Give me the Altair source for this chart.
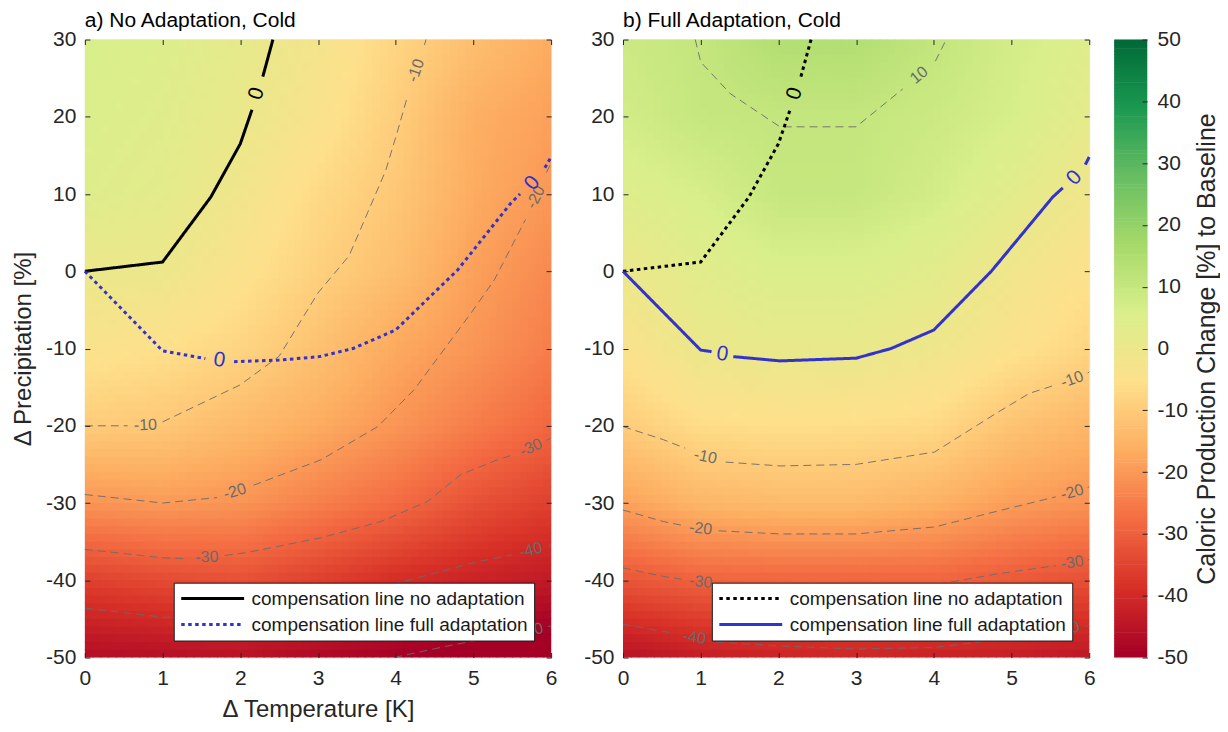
import altair as alt
import pandas as pd

# ---------------- data ----------------
T_NODES = [0, 1, 2, 3, 4, 5, 6]
P_NODES = [30, 20, 10, 0, -10, -20, -30, -40, -50]

# caloric production change [%] at the grid nodes (rows follow P_NODES, columns T_NODES)
GRID_NO_ADAPT = [
    [6.0, 4.5, 1.8, -2.5, -8.0, -13.0, -17.0],
    [5.0, 3.5, 0.6, -4.0, -9.6, -16.3, -19.0],
    [4.0, 2.5, -1.7, -7.0, -11.0, -17.0, -20.5],
    [0.0, -0.4, -4.5, -9.0, -13.0, -19.0, -23.0],
    [-4.0, -5.5, -8.0, -12.4, -17.5, -20.8, -25.0],
    [-10.0, -11.0, -14.0, -17.0, -20.8, -25.0, -29.0],
    [-21.0, -20.0, -21.0, -24.5, -28.0, -32.8, -36.0],
    [-36.0, -34.0, -33.0, -36.0, -39.5, -42.0, -44.0],
    [-47.0, -46.5, -46.0, -48.0, -50.0, -52.0, -54.0],
]
GRID_FULL_ADAPT = [
    [8.5, 10.1, 14.0, 14.0, 10.6, 6.9, 4.0],
    [7.0, 9.8, 10.1, 10.1, 8.5, 6.0, 2.0],
    [4.0, 6.0, 9.7, 9.7, 7.0, 2.8, -1.5],
    [0.0, 3.0, 5.0, 5.0, 3.0, -1.5, -5.0],
    [-4.5, 0.15, 1.1, 0.85, -1.0, -4.6, -8.0],
    [-10.0, -6.4, -5.9, -6.2, -7.0, -12.0, -14.7],
    [-18.8, -14.8, -13.8, -13.8, -15.8, -19.3, -21.4],
    [-32.1, -29.7, -29.2, -29.2, -29.3, -31.3, -33.2],
    [-46.0, -43.2, -41.9, -41.3, -42.5, -43.0, -44.7],
]

X_TICKS = [0, 1, 2, 3, 4, 5, 6]
Y_TICKS = [30, 20, 10, 0, -10, -20, -30, -40, -50]
CBAR_TICKS = [50, 40, 30, 20, 10, 0, -10, -20, -30, -40, -50]
CBAR_RANGE = [-50, 50]

SERIES = ["compensation line no adaptation", "compensation line full adaptation"]

# compensation lines (segments of [T, P]; gaps hold the "0" labels)
COMP_NO_ADAPT = [
    [[0, 0], [1, 1.2], [1.62, 9.6], [2, 16.5], [2.15, 20.9]],
    [[2.29, 25.2], [2.42, 30]],
]
COMP_NO_ADAPT_LABELS = [["0", 2.21, 23.0, 287]]

COMP_FULL_A = [
    [[0, 0], [1, -10.3], [1.55, -11.3]],
    [[1.92, -11.7], [2.5, -11.5], [3.02, -11.05], [3.45, -10.0], [4.0, -7.6], [4.8, 0.2], [5.48, 8.8], [5.6, 10.0]],
    [[5.92, 13.4], [6, 14.8]],
]
COMP_FULL_A_LABELS = [["0", 1.73, -11.55, 8], ["0", 5.76, 11.4, 310]]

COMP_FULL_B = [
    [[0, 0], [1, -10.2], [1.14, -10.4]],
    [[1.42, -11.05], [2.02, -11.6], [3, -11.25], [3.45, -10.0], [4.0, -7.6], [4.74, 0], [5.53, 9.6], [5.66, 10.8]],
    [[5.95, 13.8], [6, 14.8]],
]
COMP_FULL_B_LABELS = [["0", 1.28, -10.75, 8], ["0", 5.81, 12.1, 312]]

# dashed iso-lines of panel a
CONTOURS_A = [
    [-10, [[[0, -20], [0.55, -20]],
           [[1.0, -19.5], [2.0, -14.7], [2.5, -11.0], [3.0, -2.8], [3.4, 2.0], [3.87, 13.0], [4.02, 18.0], [4.15, 22.6]],
           [[4.37, 29.3], [4.39, 30]]]],
    [-20, [[[0, -28.9], [1, -30], [1.7, -29.3]],
           [[2.17, -27.7], [3.04, -24.4], [3.77, -20.1], [4.24, -15.3], [4.97, -5.4], [5.27, -1.1], [5.67, 6.7]],
           [[5.94, 12.8], [6, 14.0]]]],
    [-30, [[[0, -36], [1.02, -37.1], [1.33, -37.2]],
           [[1.8, -36.8], [2.09, -36.4], [3.04, -34.5], [3.81, -32.4], [4.41, -29.8], [4.84, -26.3], [5.31, -24.4], [5.53, -23.7]],
           [[5.94, -21.9], [6, -21.6]]]],
    [-40, [[[0, -43.6], [1.02, -44.8], [2, -44.4], [3, -42.8], [4, -40.4], [4.2, -39.9], [5.01, -37.7], [5.5, -36.7]],
           [[5.96, -35.5], [6, -35.4]]]],
    [-50, [[[3.98, -50], [4.67, -48.5], [5.3, -47.3], [5.52, -46.9]],
           [[5.96, -46.0], [6, -45.9]]]],
]
CONTOUR_LABELS_A = [
    ["-10", 0.78, -19.9, 358], ["-10", 4.26, 26.0, 289],
    ["-20", 1.93, -28.5, 343], ["-20", 5.8, 9.6, 297],
    ["-30", 1.57, -37.0, 358], ["-30", 5.74, -22.8, 336],
    ["-40", 5.74, -36.1, 346], ["-50", 5.75, -46.5, 346],
]

# dashed iso-lines of panel b
CONTOURS_B = [
    [10, [[[0.93, 30], [1.0, 27.1], [1.38, 23.0], [2.02, 18.7], [3.0, 18.7], [3.6, 23.6]],
          [[4.02, 27.2], [4.16, 30]]]],
    [-10, [[[0, -20.1], [0.52, -21.8], [0.8, -22.9]],
           [[1.32, -24.7], [2.02, -25.2], [3.0, -25.0], [4.01, -23.4], [4.8, -18.4], [5.23, -15.8], [5.57, -14.7]],
           [[5.98, -13.2], [6, -13.0]]]],
    [-20, [[[0, -30.9], [0.52, -32.4], [0.77, -32.9]],
           [[1.23, -33.6], [2.02, -34.0], [3.0, -34.0], [4.01, -33.1], [4.8, -31.1], [5.57, -29.2]],
           [[5.98, -28.0], [6, -27.9]]]],
    [-30, [[[0, -38.4], [0.52, -39.5], [0.78, -39.9]],
           [[1.22, -40.4], [2.0, -40.9], [3.0, -41.0], [4.07, -40.5], [4.8, -39.2], [5.57, -38.1]],
           [[5.98, -37.4], [6, -37.3]]]],
    [-40, [[[0, -45.7], [0.62, -46.8]],
           [[1.2, -48.0], [2.02, -48.5], [3.0, -48.9], [4.0, -48.7], [4.5, -48.1], [5.0, -47.4], [5.5, -46.7]],
           [[5.96, -45.95], [6, -45.9]]]],
]
CONTOUR_LABELS_B = [
    ["10", 3.81, 25.4, 320],
    ["-10", 1.06, -24.0, 12], ["-10", 5.78, -14.0, 340],
    ["-20", 1.0, -33.3, 6], ["-20", 5.78, -28.6, 345],
    ["-30", 1.0, -40.2, 7], ["-30", 5.78, -37.7, 351],
    ["-40", 0.92, -47.4, 8], ["-40", 5.73, -46.3, 346],
]

# ---------------- styling ----------------
FONT = "Liberation Sans"
BLUE = "#3232cd"
TXT = "#262626"
CMAP_DOMAIN = [-50, -38.89, -27.78, -16.67, -5.56, 5.56, 16.67, 27.78, 38.89, 50]
CMAP_RANGE = ["#a50026", "#d73027", "#f46d43", "#fdae61", "#fee08b",
              "#d9ef8b", "#a6d96a", "#66bd63", "#1a9850", "#006837"]
PW, PH = 467, 619
CBW = 33
NX, NY = 60, 80  # display cells of the shaded surface
TICK_FS, TITLE_FS = 21, 24

xscale = alt.Scale(domain=[0, 6], nice=False, zero=False)
yscale = alt.Scale(domain=[-50, 30], nice=False, zero=False)
cscale = alt.Scale(domain=CMAP_DOMAIN, range=CMAP_RANGE, interpolate="rgb", clamp=True)

LABEL_EXPR = "'' + datum.value"


def x_axis(title):
    kw = dict(values=X_TICKS, grid=True, gridDash=[5, PH - 10], gridColor=TXT, gridWidth=1,
              ticks=False, domain=False, labelFlush=False, labelPadding=10, labelFontSize=TICK_FS,
              labelColor=TXT, labelFont=FONT, titleFont=FONT, titleFontSize=TITLE_FS,
              titleFontWeight="normal", titleColor=TXT, titlePadding=9, zindex=1, labelExpr=LABEL_EXPR)
    return alt.Axis(title=title, **kw)


def y_axis(title):
    kw = dict(values=Y_TICKS, grid=True, gridDash=[5, PW - 10], gridColor=TXT, gridWidth=1,
              ticks=False, domain=False, labelFlush=False, labelPadding=9, labelFontSize=TICK_FS,
              labelColor=TXT, labelFont=FONT, titleFont=FONT, titleFontSize=TITLE_FS,
              titleFontWeight="normal", titleColor=TXT, titlePadding=10, zindex=1, labelExpr=LABEL_EXPR)
    return alt.Axis(title=title, **kw)


def coarse_df(grid):
    rows = []
    for r, p in enumerate(P_NODES):
        for c, t in enumerate(T_NODES):
            rows.append({"key": c * 10 + (p + 50) // 10, "v": grid[r][c]})
    return pd.DataFrame(rows)


def heat_layer(grid, xt, yt):
    coarse = coarse_df(grid)
    dt, dp = 6 / NX, 80 / NY
    ch = alt.Chart(alt.sequence(0, NX * NY, as_="idx")).transform_calculate(
        ci=f"datum.idx % {NX}",
        ri=f"floor(datum.idx / {NX})",
        t0=f"datum.ci * {dt}",
        p0=f"-50 + datum.ri * {dp}",
        t1=f"min(datum.t0 + {dt} + 0.012, 6)",
        p1=f"min(datum.p0 + {dp} + 0.12, 30)",
        tc=f"datum.t0 + {dt / 2}",
        pc=f"(datum.p0 + {dp / 2} + 50) / 10",
        gi="min(floor(datum.tc), 5)",
        gj="min(floor(datum.pc), 7)",
        fx="datum.tc - datum.gi",
        fy="datum.pc - datum.gj",
        k00="datum.gi * 10 + datum.gj",
        k10="(datum.gi + 1) * 10 + datum.gj",
        k01="datum.gi * 10 + datum.gj + 1",
        k11="(datum.gi + 1) * 10 + datum.gj + 1",
    )
    for k, a in [("k00", "v00"), ("k10", "v10"), ("k01", "v01"), ("k11", "v11")]:
        ch = ch.transform_lookup(lookup=k, from_=alt.LookupData(data=coarse, key="key", fields=["v"]), as_=[a])
    ch = ch.transform_calculate(
        v="datum.v00*(1-datum.fx)*(1-datum.fy) + datum.v10*datum.fx*(1-datum.fy)"
          " + datum.v01*(1-datum.fx)*datum.fy + datum.v11*datum.fx*datum.fy"
    )
    return ch.mark_rect().encode(
        x=alt.X("t0:Q", scale=xscale, axis=x_axis(xt)),
        x2="t1:Q",
        y=alt.Y("p0:Q", scale=yscale, axis=y_axis(yt)),
        y2="p1:Q",
        fill=alt.Fill("v:Q", scale=cscale, legend=None),
    )


def segs_rows(segments, prefix, series=None):
    rows = []
    for s, seg in enumerate(segments):
        for i, (t, p) in enumerate(seg):
            rows.append({"T": t, "P": p, "seg": f"{prefix}{s}", "i": i, "series": series})
    return rows


def panel(grid, contours, clabels, full_segs, full_labels, dash_range, title, xt, yt):
    crow = []
    for level, segs in contours:
        crow += segs_rows(segs, f"c{level}_")
    cdf = pd.DataFrame(crow)
    cl = pd.DataFrame(clabels, columns=["txt", "T", "P", "ang"])
    comp = pd.DataFrame(segs_rows(COMP_NO_ADAPT, "n", SERIES[0]) + segs_rows(full_segs, "f", SERIES[1]))
    lab = pd.DataFrame(
        [r + ["black"] for r in COMP_NO_ADAPT_LABELS] + [r + [BLUE] for r in full_labels],
        columns=["txt", "T", "P", "ang", "col"])

    X = alt.X("T:Q", scale=xscale, axis=x_axis(xt))
    Y = alt.Y("P:Q", scale=yscale, axis=y_axis(yt))

    heat = heat_layer(grid, xt, yt)
    clines = alt.Chart(cdf).mark_line(strokeWidth=0.9, color="#6b6b6b", strokeDash=[8, 5]).encode(
        x=X, y=Y, detail="seg:N", order="i:Q")
    ctext = alt.Chart(cl).mark_text(fontSize=16, font=FONT, color="#6b6b6b").encode(
        x=X, y=Y, text="txt:N", angle=alt.Angle("ang:Q", scale=None))
    leg = alt.Legend(title=None, orient="bottom-right", offset=17, fillColor="white",
                     strokeColor="#1a1a1a", padding=6, symbolType="stroke", symbolSize=3969,
                     symbolStrokeWidth=3, clipHeight=20, labelFontSize=19, labelFont=FONT,
                     labelColor="#1a1a1a", labelLimit=500, rowPadding=6, labelOffset=6)
    lines = alt.Chart(comp).mark_line(strokeWidth=3, strokeCap="butt").encode(
        x=X, y=Y, detail="seg:N", order="i:Q",
        stroke=alt.Stroke("series:N", scale=alt.Scale(domain=SERIES, range=["black", BLUE]), legend=leg),
        strokeDash=alt.StrokeDash("series:N", scale=alt.Scale(domain=SERIES, range=dash_range), legend=leg),
    )
    ltext = alt.Chart(lab).mark_text(fontSize=21, font=FONT).encode(
        x=X, y=Y, text="txt:N", angle=alt.Angle("ang:Q", scale=None),
        color=alt.Color("col:N", scale=None))
    return alt.layer(heat, clines, ctext, lines, ltext).properties(
        width=PW, height=PH,
        title=alt.TitleParams(title, anchor="start", frame="group", fontSize=21, font=FONT,
                              fontWeight="normal", color="black", offset=-2),
    )


def colorbar():
    return alt.Chart(alt.sequence(CBAR_RANGE[0], CBAR_RANGE[1], 0.5, as_="c")).transform_calculate(
        c2=f"min(datum.c + 0.6, {CBAR_RANGE[1]})"
    ).mark_rect().encode(
        y=alt.Y("c:Q", scale=alt.Scale(domain=CBAR_RANGE, nice=False, zero=False),
                axis=alt.Axis(orient="right", values=CBAR_TICKS, labelExpr=LABEL_EXPR, grid=True,
                              gridDash=[5, 100], gridColor=TXT, gridWidth=1, ticks=False, domain=False,
                              labelFlush=False, labelPadding=10, labelFontSize=TICK_FS, labelColor=TXT,
                              labelFont=FONT, title="Caloric Production Change [%] to Baseline",
                              titleAngle=270, titleFont=FONT, titleFontSize=25,
                              titleFontWeight="normal", titleColor=TXT, titlePadding=32, zindex=1)),
        y2="c2:Q",
        fill=alt.Fill("c:Q", scale=cscale, legend=None),
    ).properties(width=CBW, height=PH)


DOT = [3.5, 3.5]
SOLID = [1, 0]
pa = panel(GRID_NO_ADAPT, CONTOURS_A, CONTOUR_LABELS_A, COMP_FULL_A, COMP_FULL_A_LABELS,
           [SOLID, DOT], "a) No Adaptation, Cold", "Δ Temperature [K]", "Δ Precipitation [%]")
pb = panel(GRID_FULL_ADAPT, CONTOURS_B, CONTOUR_LABELS_B, COMP_FULL_B, COMP_FULL_B_LABELS,
           [DOT, SOLID], "b) Full Adaptation, Cold", None, None)

right = alt.hconcat(pb, colorbar(), spacing=25, bounds="flush").resolve_scale(
    stroke="independent", strokeDash="independent"
).resolve_legend(
    stroke="independent", strokeDash="independent"
)
chart = alt.hconcat(pa, right, spacing=72, bounds="flush").resolve_scale(
    stroke="independent", strokeDash="independent"
).resolve_legend(
    stroke="independent", strokeDash="independent"
).properties(
    padding={"left": 3, "top": 0, "right": 0, "bottom": 0}
).configure_view(stroke="#808080", strokeWidth=1).configure(font=FONT)

chart.save("out.html", embed_options={"renderer": "svg", "actions": False})
